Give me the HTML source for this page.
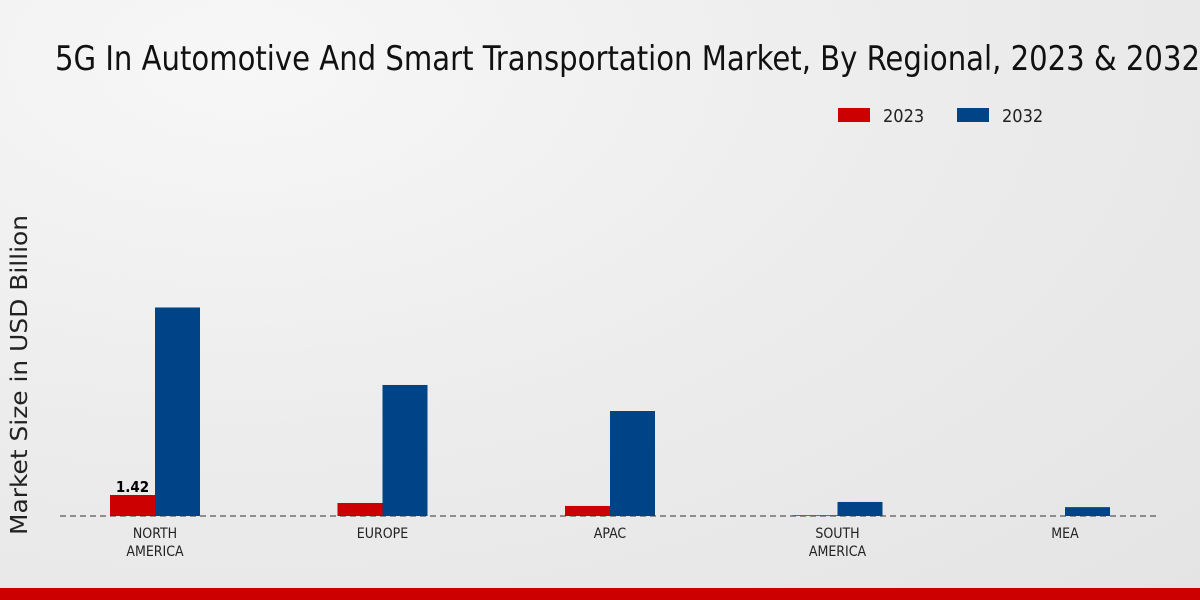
<!DOCTYPE html>
<html><head><meta charset="utf-8"><style>
body{margin:0;width:1200px;height:600px;overflow:hidden;font-family:"Liberation Sans","DejaVu Sans",sans-serif;}
#bg{position:absolute;left:0;top:0;width:1200px;height:600px;background:radial-gradient(ellipse at 20% 10%,#f7f7f7 0%,#ececec 50%,#e4e4e4 100%);}
</style></head><body>
<div id="bg"></div>
<svg id="chart" width="1200" height="600" style="position:absolute;left:0;top:0">
<text x="55" y="70" font-size="34" fill="#111" font-family="DejaVu Sans Condensed,Liberation Sans Narrow,sans-serif" textLength="1145" lengthAdjust="spacingAndGlyphs">5G In Automotive And Smart Transportation Market, By Regional, 2023 &amp; 2032</text>
<g>
<rect x="838" y="108" width="32" height="14" fill="#cc0000"/>
<text x="883" y="122" font-size="18" fill="#222" font-family="DejaVu Sans Condensed,sans-serif">2023</text>
<rect x="957" y="108" width="32" height="14" fill="#004488"/>
<text x="1002" y="122" font-size="18" fill="#222" font-family="DejaVu Sans Condensed,sans-serif">2032</text>
</g>
<text transform="translate(27,375) rotate(-90)" text-anchor="middle" font-size="23" fill="#222" font-family="DejaVu Sans,sans-serif" textLength="320" lengthAdjust="spacingAndGlyphs">Market Size in USD Billion</text>
<g id="bars"></g>
<line x1="60" y1="516" x2="1160" y2="516" stroke="#333" stroke-dasharray="6,4"/>
<g id="labels"></g>
</svg>
<div style="position:absolute;left:0;top:588px;width:1200px;height:12px;background:#cc0000"></div>
<script>
const categories=["NORTH\nAMERICA","EUROPE","APAC","SOUTH\nAMERICA","MEA"];
const values2023=[1.42,0.88,0.68,0.05,0.0];
const values2032=[14.1,8.86,7.1,0.95,0.6];
const valueLabels2023=["1.42","","","",""];
const base=516, pxPer=21/1.42, x0=155, step=227.5, bw=45;
function y(v){return base-v*pxPer;}
function cx(i){return x0+i*step;}
const ns="http://www.w3.org/2000/svg";
const bars=document.getElementById('bars'), labels=document.getElementById('labels');
categories.forEach((c,i)=>{
  [[values2023,'#cc0000',-bw,'2023'],[values2032,'#004488',0,'2032']].forEach(([arr,col,off,yr])=>{
    const r=document.createElementNS(ns,'rect');
    r.setAttribute('x',cx(i)+off);r.setAttribute('y',y(arr[i]));
    r.setAttribute('width',bw);r.setAttribute('height',Math.max(0,base-y(arr[i])));
    r.setAttribute('fill',col);
    
    
    bars.appendChild(r);
  });
  if(valueLabels2023[i]){
    const t=document.createElementNS(ns,'text');
    t.setAttribute('x',cx(i)-bw/2);t.setAttribute('y',y(values2023[i])-3);
    t.setAttribute('text-anchor','middle');t.setAttribute('font-size','15');t.setAttribute('font-weight','bold');
    t.setAttribute('font-family','DejaVu Sans Condensed,sans-serif');
    t.textContent=valueLabels2023[i];
    
    
    labels.appendChild(t);
  }
  c.split('\n').forEach((line,j)=>{
    const t=document.createElementNS(ns,'text');
    t.setAttribute('x',cx(i));t.setAttribute('y',538+j*18);
    t.setAttribute('text-anchor','middle');t.setAttribute('font-size','14');t.setAttribute('fill','#222');
    t.setAttribute('font-family','DejaVu Sans Condensed,sans-serif');
    t.textContent=line;
    
    
    labels.appendChild(t);
  });
});
</script>
</body></html>
